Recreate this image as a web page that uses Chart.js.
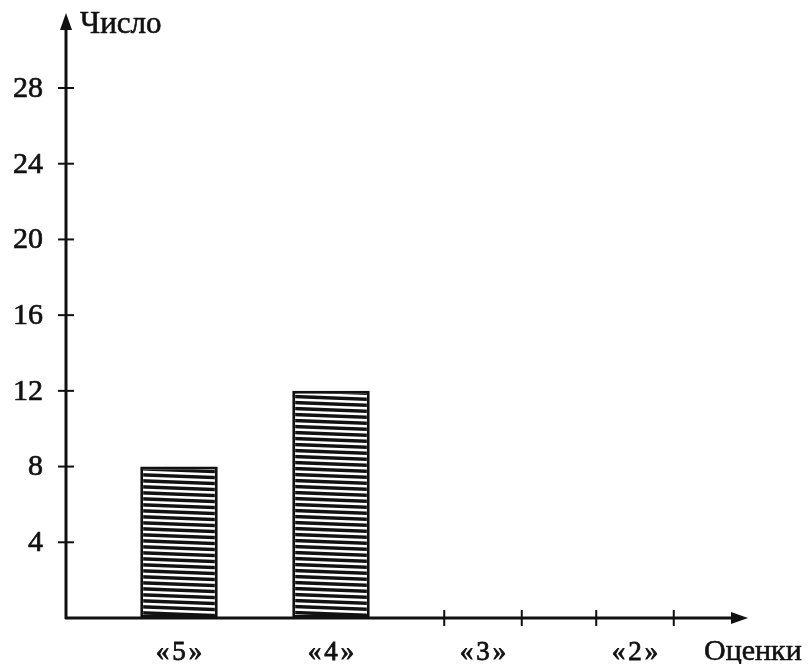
<!DOCTYPE html>
<html>
<head>
<meta charset="utf-8">
<script src="https://cdn.jsdelivr.net/npm/chart.js@4.4.1/dist/chart.umd.min.js"></script>
<style>
  html, body { margin: 0; padding: 0; background: #fff; }
  #wrap { width: 811px; height: 664px; }
</style>
</head>
<body>
<div id="wrap"><canvas id="chart" width="811" height="664"></canvas></div>
<script>
// данные диаграммы
var grades = ["«5»", "«4»", "«3»", "«2»"];
var counts = [8, 12, 0, 0];
var yTicks = [4, 8, 12, 16, 20, 24, 28];
var yTitle = "Число";
var xTitle = "Оценки";

var FONT = "'Liberation Serif', 'DejaVu Serif', serif";

// штриховка столбцов
function makeHatch() {
    var c = document.createElement("canvas");
    c.width = 160;
    c.height = 6;
    var g = c.getContext("2d");
    g.fillStyle = "#fff";
    g.fillRect(0, 0, 160, 6);
    g.strokeStyle = "#111";
    g.lineWidth = 3.4;
    for (var k = -2; k <= 2; k++) {
        g.beginPath();
        g.moveTo(0, k * 6 + 1.5);
        g.lineTo(160, k * 6 + 7.5);
        g.stroke();
    }
    return g.createPattern(c, "repeat");
}

// текст чуть жирнее, как в типографском шрифте
function heavyText(ctx, s, x, y) {
    ctx.fillText(s, x, y);
    ctx.strokeText(s, x, y);
}

var axesPlugin = {
    id: "axes",
    afterDraw: function (chart) {
        var ctx = chart.ctx;
        var x = chart.scales.x;
        var y = chart.scales.y;
        var ox = 66;
        var oy = y.getPixelForValue(0);
        ctx.save();
        ctx.strokeStyle = "#111";
        ctx.fillStyle = "#111";
        ctx.lineWidth = 3;

        // ось Y
        ctx.beginPath();
        ctx.moveTo(ox, oy + 1);
        ctx.lineTo(ox, 24);
        ctx.stroke();
        ctx.beginPath();
        ctx.moveTo(ox, 13);
        ctx.lineTo(ox - 6, 30);
        ctx.lineTo(ox + 6, 30);
        ctx.closePath();
        ctx.fill();

        // ось X
        ctx.beginPath();
        ctx.moveTo(ox - 1, oy);
        ctx.lineTo(736, oy);
        ctx.stroke();
        ctx.beginPath();
        ctx.moveTo(748, oy);
        ctx.lineTo(731, oy - 6);
        ctx.lineTo(731, oy + 6);
        ctx.closePath();
        ctx.fill();

        // деления оси Y
        ctx.lineWidth = 2;
        yTicks.forEach(function (v) {
            var py = y.getPixelForValue(v);
            ctx.beginPath();
            ctx.moveTo(ox - 8, py);
            ctx.lineTo(ox + 8, py);
            ctx.stroke();
        });
        ctx.lineWidth = 0.7;
        ctx.font = "30px " + FONT;
        ctx.textAlign = "right";
        ctx.textBaseline = "middle";
        yTicks.forEach(function (v) {
            heavyText(ctx, String(v), 43, y.getPixelForValue(v) + 1);
        });

        // деления оси X по краям пустых столбцов
        var half = (x.width / grades.length) * 0.51 / 2;
        ctx.textAlign = "center";
        ctx.font = "27px " + FONT;
        grades.forEach(function (g, i) {
            var px = x.getPixelForValue(i);
            if (!counts[i]) {
                ctx.lineWidth = 2;
                [px - half, px + half].forEach(function (tx) {
                    ctx.beginPath();
                    ctx.moveTo(tx, oy - 8);
                    ctx.lineTo(tx, oy + 8);
                    ctx.stroke();
                });
            }
            ctx.lineWidth = 0.8;
            ctx.letterSpacing = "3px";
            heavyText(ctx, g, px + 1.5, 653);
            ctx.letterSpacing = "0px";
        });

        // подписи осей
        ctx.lineWidth = 0.6;
        ctx.font = "31px " + FONT;
        ctx.textAlign = "left";
        heavyText(ctx, yTitle, 80, 25);
        ctx.font = "30px " + FONT;
        heavyText(ctx, xTitle, 704, 652);
        ctx.restore();
    },
};

var chart = new Chart(document.getElementById("chart"), {
    type: "bar",
    data: {
        labels: grades,
        datasets: [
            {
                data: counts,
                backgroundColor: makeHatch(),
                borderColor: "#111",
                borderWidth: 3,
                borderSkipped: false,
                categoryPercentage: 1,
                barPercentage: 0.51,
            },
        ],
    },
    options: {
        responsive: false,
        animation: false,
        layout: { padding: { left: 103, right: 100, top: 88, bottom: 46 } },
        scales: {
            x: { display: false },
            y: { display: false, min: 0, max: 28 },
        },
        plugins: {
            legend: { display: false },
            tooltip: { enabled: false },
        },
    },
    plugins: [axesPlugin],
});
</script>
</body>
</html>
